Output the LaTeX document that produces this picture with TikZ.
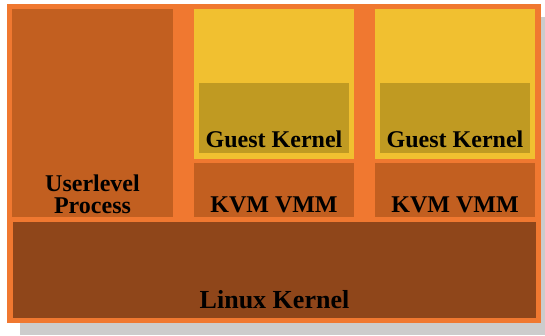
\documentclass[tikz,border=0pt]{standalone}
\usepackage{fontspec}
\setmainfont{Liberation Serif}
\definecolor{frameorange}{HTML}{F07830}
\definecolor{procbrown}{HTML}{C25F20}
\definecolor{guestyellow}{HTML}{F1C030}
\definecolor{guestolive}{HTML}{C09A22}
\definecolor{linuxbrown}{HTML}{8F461A}
\definecolor{shadowgray}{HTML}{CCCCCC}
\tikzset{
  lbl/.style={font=\bfseries\fontsize{24}{22}\selectfont, anchor=base, inner sep=0pt, align=center, text=black},
  biglbl/.style={lbl, font=\bfseries\fontsize{26}{24}\selectfont},
}
\begin{document}
\begin{tikzpicture}[x=1pt,y=-1pt]
\useasboundingbox (0,0) rectangle (545,335);
% shadow
\fill[shadowgray] (20,17) rectangle (545,335);
% outer frame
\fill[frameorange] (7,4) rectangle (541,323);
% userlevel process
\fill[procbrown] (12,9) rectangle (173,216.7);
% column 1
\fill[guestyellow] (194,9) rectangle (354,158.7);
\fill[guestolive] (199,83) rectangle (349,152.7);
\fill[procbrown] (194,163) rectangle (354,216.7);
% column 2
\fill[guestyellow] (375,9) rectangle (535,158.7);
\fill[guestolive] (380,83) rectangle (530,152.7);
\fill[procbrown] (375,163) rectangle (535,216.7);
% linux kernel
\fill[linuxbrown] (13,222) rectangle (536,317.7);
% labels
\node[lbl] (user) at (92.5,213) {Userlevel\\Process};
\node[lbl] (gk1) at (274,147.3) {Guest Kernel};
\node[lbl] (gk2) at (455,147.3) {Guest Kernel};
\node[lbl] (kvm1) at (274,212) {KVM VMM};
\node[lbl] (kvm2) at (455,212) {KVM VMM};
\node[biglbl] (linux) at (274.5,308) {Linux Kernel};
\end{tikzpicture}
\end{document}
